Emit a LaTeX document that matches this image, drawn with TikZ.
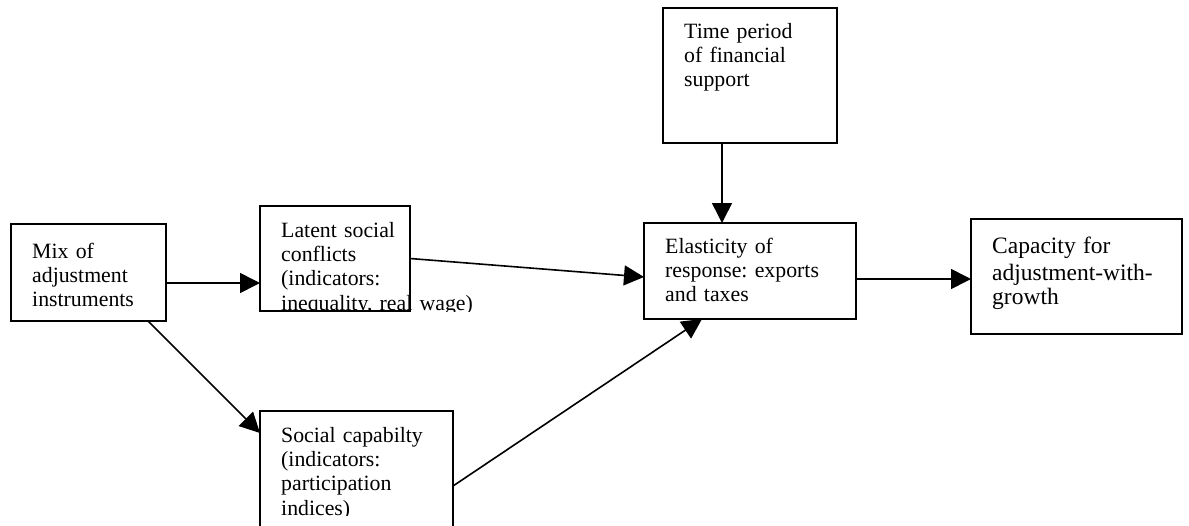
\documentclass[tikz,border=0pt]{standalone}
\usepackage{fontspec}
\setmainfont{Liberation Serif}
\frenchspacing
\usetikzlibrary{arrows.meta, positioning}
\tikzset{
  factor/.style 2 args={
    draw=black,
    line width=1.6pt,
    rectangle,
    anchor=north west,
    inner sep=0pt,
    outer sep=0pt,
    minimum width=#1,
    minimum height=#2
  },
  box text/.style={
    anchor=base west,
    inner sep=0pt,
    text width=300pt,
    align=left,
    font=\fontsize{21.8}{24.4}\selectfont
  },
  every edge/.style={
    draw=black,
    line width=1.6pt,
    -{Triangle[length=20pt, width=20pt]}
  }
}
% text of a box, cut off at the box bottom (raised by #3)
\newcommand{\factortext}[4][31pt]{%
  \begin{scope}
    \clip ([xshift=-2pt]#2.north west) rectangle ([shift={(80pt,#3)}]#2.south east);
    \node[box text] at ([shift={(21pt,-#1)}]#2.north west) {#4};
  \end{scope}}

\begin{document}
\begin{tikzpicture}[x=1pt, y=-1pt]
  \path[use as bounding box, clip] (0,0) rectangle (1189,525);

  \node[factor={155pt}{97pt}] (mix) at (11,224) {};
  \node[factor={150pt}{105pt}] (conflicts) at (260,206) {};
  \node[factor={193pt}{130pt}] (capability) at (260,411) {};
  \node[factor={174pt}{135pt}] (time) at (663,8) {};
  \node[factor={212pt}{96pt}] (elasticity) at (644,223) {};
  \node[factor={211pt}{115pt}] (capacity) at (971,219) {};

  \factortext[34pt]{mix}{0pt}{Mix of\\adjustment\\instruments}
  \factortext{conflicts}{0pt}{Latent social\\conflicts\\(indicators:\\inequality, real wage)}
  \factortext{capability}{26pt}{Social capabilty\\(indicators:\\participation\\indices)}
  \factortext[30pt]{time}{0pt}{Time period\\of financial\\support}
  \factortext[30pt]{elasticity}{0pt}{Elasticity of\\response: exports\\and taxes}
  \factortext[34pt]{capacity}{0pt}{{\fontsize{23.5}{27}\selectfont Capacity for\\adjustment-with-\\growth}}

  \path ([yshift=-10.5pt]mix.east) edge ([yshift=-24.5pt]conflicts.west)
        ([xshift=-18pt]mix.south east) edge ([yshift=-22pt]capability.north west)
        (conflicts.east) edge ([yshift=-6pt]elasticity.west)
        ([yshift=-75pt]capability.north east) edge ([xshift=58pt]elasticity.south west)
        ([xshift=-28pt]time.south) edge ([xshift=-28pt]elasticity.north)
        ([yshift=-8pt]elasticity.east) edge ([yshift=-2.5pt]capacity.west);
\end{tikzpicture}
\end{document}
